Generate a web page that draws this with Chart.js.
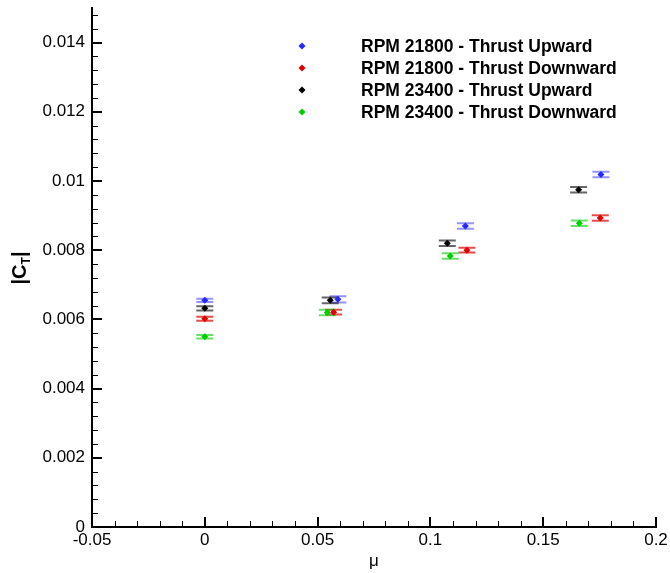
<!DOCTYPE html>
<html>
<head>
<meta charset="utf-8">
<script src="https://cdn.jsdelivr.net/npm/chart.js@4"></script>
<style>
  html, body { margin: 0; padding: 0; background: #fff; }
  #wrap { width: 670px; height: 573px; }
</style>
</head>
<body>
<div id="wrap"><canvas id="chart" width="670" height="573"></canvas></div>
<script>
// data
const seriesLabels = [
    'RPM 21800 - Thrust Upward',
    'RPM 21800 - Thrust Downward',
    'RPM 23400 - Thrust Upward',
    'RPM 23400 - Thrust Downward',
];
const mu21800Up = [0, 0.059, 0.1155, 0.1756];
const ct21800Up = [0.00655, 0.00658, 0.0087, 0.01019];
const err21800Up = [0.00005, 0.00009, 0.00008, 0.00008];

const mu21800Down = [0, 0.0571, 0.1162, 0.1753];
const ct21800Down = [0.00602, 0.00621, 0.0080, 0.00893];
const err21800Down = [0.00006, 0.00007, 0.00007, 0.00008];

const mu23400Up = [0, 0.0556, 0.1075, 0.1657];
const ct23400Up = [0.00632, 0.00655, 0.0082, 0.00975];
const err23400Up = [0.00006, 0.00008, 0.00008, 0.00008];

const mu23400Down = [0, 0.0543, 0.1088, 0.166];
const ct23400Down = [0.0055, 0.0062, 0.00783, 0.00878];
const err23400Down = [0.00005, 0.00008, 0.00008, 0.00008];

const xTicks = [-0.05, 0, 0.05, 0.1, 0.15, 0.2];
const xTickLabels = ['-0.05', '0', '0.05', '0.1', '0.15', '0.2'];
const yTicks = [0, 0.002, 0.004, 0.006, 0.008, 0.01, 0.012, 0.014];
const yTickLabels = ['0', '0.002', '0.004', '0.006', '0.008', '0.01', '0.012', '0.014'];

const colors = ['rgb(40,40,255)', 'rgb(220,0,0)', 'rgb(0,0,0)', 'rgb(0,205,0)'];
const capColors = ['rgba(40,40,255,0.5)', 'rgba(220,0,0,0.7)', 'rgba(0,0,0,0.6)', 'rgba(0,205,0,0.6)'];

const FONT = '"Liberation Sans", Arial, sans-serif';

function pts(xs, ys) {
    return xs.map((x, i) => ({ x: x, y: ys[i] }));
}

const allX = [mu21800Up, mu21800Down, mu23400Up, mu23400Down];
const allY = [ct21800Up, ct21800Down, ct23400Up, ct23400Down];
const allErr = [err21800Up, err21800Down, err23400Up, err23400Down];

const datasets = seriesLabels.map((lab, i) => ({
    label: lab,
    data: pts(allX[i], allY[i]),
    errors: allErr[i],
    backgroundColor: colors[i],
    borderColor: colors[i],
    pointStyle: 'rectRot',
    pointRadius: 3.5,
    borderWidth: 0,
    showLine: false,
}));

// error bars, inward ticks, axis titles, legend
const decor = {
    id: 'decor',
    beforeDatasetsDraw(chart) {
        const ctx = chart.ctx;
        const xs = chart.scales.x, ys = chart.scales.y;
        ctx.save();
        chart.data.datasets.forEach((ds, i) => {
            ctx.strokeStyle = capColors[i];
            ctx.lineWidth = 2;
            ds.data.forEach((p, j) => {
                const e = ds.errors[j];
                const px = xs.getPixelForValue(p.x);
                const y1 = ys.getPixelForValue(p.y + e);
                const y2 = ys.getPixelForValue(p.y - e);
                ctx.beginPath();
                ctx.moveTo(px, y1); ctx.lineTo(px, y2);
                ctx.moveTo(px - 8.5, y1); ctx.lineTo(px + 8.5, y1);
                ctx.moveTo(px - 8.5, y2); ctx.lineTo(px + 8.5, y2);
                ctx.stroke();
            });
        });
        ctx.restore();
    },
    afterDraw(chart) {
        const ctx = chart.ctx;
        const xs = chart.scales.x, ys = chart.scales.y;
        const area = chart.chartArea;
        ctx.save();
        ctx.strokeStyle = '#000';
        // x ticks
        for (let k = 0; k < xTicks.length; k++) {
            const px = Math.round(xs.getPixelForValue(xTicks[k]));
            ctx.lineWidth = 2;
            ctx.beginPath(); ctx.moveTo(px, area.bottom); ctx.lineTo(px, area.bottom - 10); ctx.stroke();
            if (k < xTicks.length - 1) {
                const step = (xTicks[k + 1] - xTicks[k]) / 5;
                ctx.lineWidth = 1;
                for (let m = 1; m < 5; m++) {
                    const mx = Math.round(xs.getPixelForValue(xTicks[k] + m * step)) + 0.5;
                    ctx.beginPath(); ctx.moveTo(mx, area.bottom); ctx.lineTo(mx, area.bottom - 6); ctx.stroke();
                }
            }
        }
        // y ticks
        const yStep = (yTicks[1] - yTicks[0]) / 5;
        for (let k = 0; k < yTicks.length; k++) {
            const py = Math.round(ys.getPixelForValue(yTicks[k]));
            ctx.lineWidth = 2;
            ctx.beginPath(); ctx.moveTo(area.left, py); ctx.lineTo(area.left + 10, py); ctx.stroke();
            ctx.lineWidth = 1;
            for (let m = 1; m < 5; m++) {
                const v = yTicks[k] + m * yStep;
                if (v > ys.max + 1e-9) break;
                const my = Math.round(ys.getPixelForValue(v)) + 0.5;
                ctx.beginPath(); ctx.moveTo(area.left, my); ctx.lineTo(area.left + 6, my); ctx.stroke();
            }
        }
        // x title
        ctx.fillStyle = '#000';
        ctx.font = '17px ' + FONT;
        ctx.textAlign = 'center';
        ctx.textBaseline = 'middle';
        ctx.fillText('\u03bc', (area.left + area.right) / 2, 561);
        // y title |C_T|
        ctx.save();
        ctx.translate(19, 268);
        ctx.rotate(-Math.PI / 2);
        ctx.textBaseline = 'alphabetic';
        ctx.textAlign = 'left';
        const big = 'bold 20px ' + FONT, small = 'bold 12px ' + FONT;
        ctx.font = big; const w1 = ctx.measureText('|C').width;
        ctx.font = small; const w2 = ctx.measureText('T').width;
        ctx.font = big; const w3 = ctx.measureText('|').width;
        let x0 = -(w1 + w2 + w3) / 2;
        ctx.font = big; ctx.fillText('|C', x0, 7);
        ctx.font = small; ctx.fillText('T', x0 + w1, 11);
        ctx.font = big; ctx.fillText('|', x0 + w1 + w2, 7);
        ctx.restore();
        // legend
        const rowsY = [46, 68, 90, 112];
        chart.data.datasets.forEach((ds, i) => {
            const cy = rowsY[i];
            ctx.fillStyle = colors[i];
            ctx.beginPath();
            ctx.moveTo(302, cy - 3.5); ctx.lineTo(305.5, cy); ctx.lineTo(302, cy + 3.5); ctx.lineTo(298.5, cy);
            ctx.closePath(); ctx.fill();
            ctx.fillStyle = '#000';
            ctx.font = 'bold 17.5px ' + FONT;
            ctx.textAlign = 'left';
            ctx.textBaseline = 'middle';
            ctx.fillText(ds.label, 361, cy + 1);
        });
        ctx.restore();
    }
};

new Chart(document.getElementById('chart'), {
    type: 'scatter',
    data: { datasets: datasets },
    options: {
        responsive: false,
        animation: false,
        layout: { padding: { top: 8, right: 14, left: 0, bottom: 0 } },
        plugins: { legend: { display: false }, tooltip: { enabled: false } },
        scales: {
            x: {
                type: 'linear',
                min: -0.05, max: 0.2,
                afterBuildTicks: (s) => { s.ticks = xTicks.map(v => ({ value: v })); },
                afterFit: (s) => { s.height = 46; s.paddingLeft = 0; s.paddingRight = 0; },
                grid: { display: false, drawTicks: false },
                border: { display: true, color: '#000', width: 2 },
                ticks: {
                    padding: 3,
                    color: '#000',
                    font: { family: FONT, size: 17 },
                    callback: (v, i) => xTickLabels[i],
                },
            },
            y: {
                type: 'linear',
                min: 0, max: 0.015,
                afterBuildTicks: (s) => { s.ticks = yTicks.map(v => ({ value: v })); },
                afterFit: (s) => { s.width = 92; s.paddingTop = 0; s.paddingBottom = 0; },
                grid: { display: false, drawTicks: false },
                border: { display: true, color: '#000', width: 2 },
                ticks: {
                    padding: 7,
                    color: '#000',
                    font: { family: FONT, size: 17 },
                    callback: (v, i) => yTickLabels[i],
                },
            },
        },
    },
    plugins: [decor],
});
</script>
</body>
</html>
